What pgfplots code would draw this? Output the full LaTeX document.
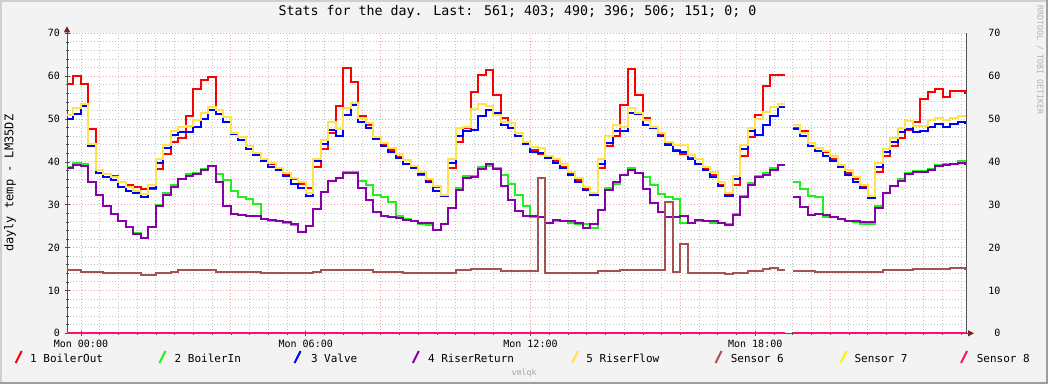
\documentclass[border=0pt]{standalone}
\usepackage{fontspec}
\setmainfont{DejaVu Sans Mono}
\usepackage{pgfplots}
\pgfplotsset{compat=1.18}
\usepackage{pgfplotstable}
\usetikzlibrary{arrows.meta}

\definecolor{cBack}{HTML}{F3F3F3}
\definecolor{cShadeA}{HTML}{CFCFCF}
\definecolor{cShadeB}{HTML}{9E9E9E}
\definecolor{cGrid}{HTML}{C4C4C4}
\definecolor{cMGrid}{HTML}{EBA8A8}
\definecolor{cAxis}{HTML}{505050}
\definecolor{cArrow}{HTML}{7F1F1F}
\definecolor{cR}{HTML}{FF0000}
\definecolor{cG}{HTML}{22EE22}
\definecolor{cB}{HTML}{0000FF}
\definecolor{cP}{HTML}{8800AA}
\definecolor{cY}{HTML}{FFE34D}
\definecolor{cS}{HTML}{A65252}
\definecolor{cS7}{HTML}{FFF200}
\definecolor{cS8}{HTML}{FF1070}

\pgfplotstableread{
t R G B P Y S Z
-0.373 58.2 38.9 50.0 38.5 50.9 14.8 0
-0.2 60.0 39.7 51.1 39.3 52.5 14.8 0
0.0 58.2 39.5 53.0 39.1 53.4 14.4 0
0.2 47.6 35.2 43.6 35.2 44.2 14.4 0
0.4 38.1 32.3 37.3 32.3 38.1 14.4 0
0.6 37.2 29.7 36.4 29.6 37.2 14.0 0
0.8 36.6 27.8 35.8 27.8 36.4 14.0 0
1.0 35.2 26.2 34.2 26.3 35.4 14.0 0
1.2 34.6 24.9 33.1 24.7 34.2 14.0 0
1.4 34.1 23.5 32.7 23.2 33.1 14.0 0
1.6 33.6 22.3 31.9 22.3 32.5 13.6 0
1.8 33.6 24.9 33.8 24.7 34.6 13.6 0
2.0 38.4 29.9 39.8 29.8 40.6 14.0 0
2.2 41.8 32.8 43.3 32.3 44.0 14.0 0
2.4 44.7 34.6 46.3 34.2 47.3 14.4 0
2.6 45.6 35.9 46.9 36.0 48.2 14.8 0
2.8 50.6 37.2 47.0 36.7 48.4 14.8 0
3.0 57.0 37.3 48.2 37.1 49.8 14.8 0
3.2 59.0 38.4 49.9 38.2 51.3 14.8 0
3.4 59.7 39.0 52.1 39.1 52.7 14.8 0
3.6 52.1 37.2 51.1 35.4 52.1 14.4 0
3.8 50.4 35.8 49.2 29.7 50.4 14.4 0
4.0 46.7 33.1 46.5 27.9 46.8 14.4 0
4.2 45.7 31.7 45.1 27.5 45.7 14.4 0
4.4 43.6 31.3 42.9 27.4 43.8 14.4 0
4.6 41.8 30.2 41.6 27.4 42.0 14.4 0
4.8 40.4 26.6 40.3 26.6 40.6 14.0 0
5.0 39.5 26.3 38.9 26.4 39.7 14.0 0
5.2 38.1 26.1 38.0 26.2 38.5 14.0 0
5.4 37.2 25.7 36.6 25.9 37.5 14.0 0
5.6 35.9 25.3 34.8 25.5 36.2 14.0 0
5.8 34.8 23.7 33.9 23.7 35.2 14.0 0
6.0 33.8 25.1 32.0 25.1 32.8 14.0 0
6.2 38.7 29.1 40.1 28.9 40.6 14.4 0
6.4 42.9 32.9 44.2 32.9 45.2 14.8 0
6.6 46.8 35.5 47.5 35.5 49.4 14.8 0
6.8 53.0 36.2 46.0 36.2 47.6 14.8 0
7.0 62.0 37.7 50.9 37.5 52.5 14.8 0
7.2 58.7 37.7 53.3 37.5 53.7 14.8 0
7.4 50.6 35.6 49.4 33.8 50.2 14.8 0
7.6 48.6 34.6 47.8 31.0 49.0 14.8 0
7.8 45.5 32.3 45.3 28.4 45.7 14.4 0
8.0 43.9 31.7 43.7 27.4 44.3 14.4 0
8.2 42.8 30.7 42.4 27.2 43.2 14.4 0
8.4 41.2 27.4 40.8 26.8 41.8 14.4 0
8.6 39.5 26.6 39.5 26.4 40.4 14.0 0
8.8 38.7 26.1 38.5 26.1 39.0 14.0 0
9.0 36.9 25.5 37.2 25.8 37.7 14.0 0
9.2 35.8 25.3 35.4 25.7 35.9 14.0 0
9.4 34.2 24.0 33.3 24.0 34.4 14.0 0
9.6 32.3 25.5 32.0 25.5 32.3 14.0 0
9.8 38.5 29.2 39.7 29.2 40.6 14.0 0
10.0 44.7 33.8 46.0 33.4 47.8 14.8 0
10.2 47.8 36.6 47.1 36.2 48.2 14.8 0
10.4 56.4 36.7 47.4 36.4 52.3 15.1 0
10.6 60.3 38.7 50.7 38.3 53.4 15.1 0
10.8 61.4 39.0 52.0 39.4 53.0 15.1 0
11.0 55.6 38.5 51.3 38.3 50.9 15.1 0
11.2 50.2 36.9 48.6 34.4 49.2 14.6 0
11.4 49.0 34.8 48.0 31.1 49.0 14.6 0
11.6 46.0 32.3 46.0 28.6 46.7 14.6 0
11.8 44.2 29.6 44.1 27.4 44.7 14.6 0
12.0 42.8 27.2 42.2 27.4 43.4 14.6 0
12.2 41.8 27.1 42.0 27.2 43.2 36.3 0
12.4 41.1 25.8 40.8 25.8 41.4 14.0 0
12.6 40.1 26.3 39.8 26.4 40.6 14.0 0
12.8 38.7 26.1 38.5 26.3 39.5 14.0 0
13.0 37.2 25.7 36.9 26.1 37.7 14.0 0
13.2 35.8 25.6 35.4 25.8 36.2 14.0 0
13.4 33.8 25.5 33.4 24.5 34.1 14.0 0
13.6 32.5 24.5 32.3 25.5 32.7 14.0 0
13.8 38.5 28.8 39.5 28.8 40.6 14.5 0
14.0 43.6 33.8 44.5 33.4 46.0 14.5 0
14.2 46.0 34.8 47.1 35.4 48.6 14.5 0
14.4 53.3 36.9 47.1 36.9 48.2 14.8 0
14.6 61.6 38.5 51.3 38.1 52.5 14.8 0
14.8 55.6 37.5 51.2 37.3 51.5 14.8 0
15.0 50.2 36.4 48.6 33.6 49.8 14.8 0
15.2 47.8 34.6 47.8 30.3 48.2 14.8 0
15.4 46.5 32.6 46.0 28.2 46.8 14.8 0
15.6 44.3 31.9 43.9 27.2 44.7 30.7 0
15.8 42.8 31.3 42.6 27.2 43.9 14.4 0
16.0 41.8 25.7 42.4 27.3 43.9 20.9 0
16.2 40.8 25.7 40.6 25.7 41.6 14.1 0
16.4 39.5 26.3 39.5 26.5 40.6 14.1 0
16.6 38.5 26.1 38.0 26.3 38.9 14.1 0
16.8 36.9 25.8 36.4 26.1 37.7 14.1 0
17.0 34.6 25.7 34.4 25.8 35.2 14.1 0
17.2 32.6 25.5 32.0 25.3 32.7 13.8 0
17.4 34.6 27.8 35.9 27.6 36.6 14.1 0
17.6 41.4 32.0 42.9 31.8 43.9 14.1 0
17.8 45.7 35.0 47.1 34.6 47.8 14.6 0
18.0 50.9 36.6 46.3 36.5 49.9 14.6 0
18.2 57.7 37.4 48.6 37.0 51.7 14.9 0
18.4 60.3 38.6 50.6 38.2 52.8 15.2 0
18.6 60.3 39.3 52.7 39.3 53.5 14.8 0
18.8 60.3 39.3 52.7 39.3 53.5 14.8 0
18.9 nan nan nan nan nan nan nan
19.0 47.8 35.4 47.6 31.9 48.7 14.6 0
19.2 47.1 33.6 46.0 29.4 46.8 14.6 0
19.4 44.4 32.0 43.8 27.6 44.3 14.6 0
19.6 43.2 31.8 42.6 27.8 43.2 14.3 0
19.8 42.3 27.2 41.4 27.5 42.5 14.3 0
20.0 40.6 27.1 40.2 27.1 41.4 14.3 0
20.2 38.9 26.6 38.7 26.7 39.2 14.3 0
20.4 37.4 26.3 36.9 26.3 38.1 14.3 0
20.6 35.9 26.0 35.4 26.1 36.5 14.3 0
20.8 34.2 25.6 33.9 25.9 34.5 14.3 0
21.0 31.9 25.5 31.6 26.0 32.0 14.2 0
21.2 37.7 29.6 38.9 29.2 39.8 14.2 0
21.4 41.3 32.8 42.2 32.8 43.1 14.8 0
21.6 43.6 34.3 44.6 34.3 45.5 14.8 0
21.8 45.5 35.9 46.9 35.6 47.8 14.8 0
22.0 47.4 37.3 47.7 37.1 49.5 14.8 0
22.2 49.4 37.8 47.0 37.7 48.4 15.0 0
22.4 54.7 37.9 47.2 37.7 48.4 15.0 0
22.6 56.3 38.3 48.1 38.1 49.8 15.0 0
22.8 56.9 39.3 48.8 39.0 50.3 15.0 0
23.0 55.2 39.5 48.2 39.3 49.7 15.0 0
23.2 56.6 39.6 48.9 39.4 50.2 15.3 0
23.4 56.5 40.3 49.2 39.7 50.6 15.3 0
23.6 56.1 40.3 49.0 39.6 50.6 15.1 0
23.627 56.1 40.3 49.0 39.6 50.6 15.1 0
}\data

\newcommand{\tickfont}{\fontsize{10}{12}\selectfont}
\newcommand{\legfont}{\fontsize{11}{13}\selectfont}

\begin{document}
\begin{tikzpicture}[x=1pt,y=1pt]
\path[use as bounding box] (0,0) rectangle (1048,384);
\fill[cBack] (0,0) rectangle (1048,384);
\draw[cShadeA, line width=2pt] (1,0) -- (1,383) -- (1048,383);
\draw[cShadeB, line width=2pt] (0,1) -- (1047,1) -- (1047,384);

\begin{axis}[
  at={(67pt,50.7pt)}, anchor=south west, scale only axis,
  width=899pt, height=300pt,
  xmin=-0.373, xmax=23.627, ymin=0, ymax=70,
  clip=false,
  axis background/.style={fill=white},
  axis line style={draw=none},
  xtick={0,6,12,18},
  xticklabels={Mon 00:00,Mon 06:00,Mon 12:00,Mon 18:00},
  ytick={0,10,...,70},
  minor xtick={0,0.5,...,23.5},
  minor ytick={2,4,...,68},
  extra x ticks={0,4,8,12,16,20},
  extra x tick labels={},
  extra x tick style={xmajorgrids=true, major tick length=0pt},
  xmajorgrids=false, ymajorgrids=true, xminorgrids=true, yminorgrids=true,
  minor grid style={cGrid, line width=0.8pt, dash pattern=on 1pt off 2pt},
  major grid style={cMGrid, line width=0.8pt, dash pattern=on 1pt off 2pt},
  tick pos=left, tick align=center,
  major tick length=5pt, minor tick length=3pt,
  every tick/.style={cAxis, line width=0.6pt},
  /pgf/number format/assume math mode=true,
  tick label style={font=\tickfont, text=black},
  yticklabel style={anchor=east, xshift=-1pt},
  xticklabel style={anchor=north, yshift=-0.5pt},
  unbounded coords=jump,
  every axis plot/.append style={const plot, line width=2pt, mark=none},
]
\draw[cAxis, line width=1pt] (rel axis cs:1,0) -- (rel axis cs:1,1);
\draw[cAxis, line width=1pt, -{Triangle[length=6pt,width=6pt,color=cArrow]}] (rel axis cs:0,0) -- ([yshift=7pt]rel axis cs:0,1);
\draw[cAxis, line width=1pt, -{Triangle[length=6pt,width=6pt,color=cArrow]}] (rel axis cs:0,0) -- ([xshift=8pt]rel axis cs:1,0);
\addplot[cR] table[x=t,y=R] {\data};
\addplot[cG] table[x=t,y=G] {\data};
\addplot[cB] table[x=t,y=B] {\data};
\addplot[cP] table[x=t,y=P] {\data};
\addplot[cY] table[x=t,y=Y] {\data};
\addplot[cS] table[x=t,y=S] {\data};
\addplot[cS7] table[x=t,y=Z] {\data};
\addplot[cS8] table[x=t,y=Z] {\data};
\end{axis}

\begin{axis}[
  at={(67pt,50.7pt)}, anchor=south west, scale only axis,
  width=899pt, height=300pt,
  xmin=-0.373, xmax=23.627, ymin=0, ymax=70,
  hide x axis, axis y line*=right,
  axis line style={draw=none},
  ytick={0,10,...,70},
  major tick length=0pt,
  /pgf/number format/assume math mode=true,
  tick label style={font=\tickfont, text=black},
  yticklabel style={anchor=east, xshift=38pt},
]
\end{axis}

\node[font=\fontsize{13.3}{15}\selectfont] at (517.5,372) {Stats for the day. Last: 561; 403; 490; 396; 506; 151; 0; 0};
\node[font=\fontsize{12}{14}\selectfont, rotate=90] at (10,200.7) {dayly temp - LM35DZ};
\node[font=\fontsize{8.3}{10}\selectfont, text=black!30, rotate=-90] at (1040,324) {RRDTOOL / TOBI OETIKER};
\node[font=\fontsize{8.3}{10}\selectfont, text=black!35] at (524,11) {vmlqk};

\foreach \mx/\tx/\col/\lab in {18.7/30/cR/{1 BoilerOut}, 162.4/174.5/cG/{2 BoilerIn}, 297.5/310.8/cB/{3 Valve}, 415.8/427.8/cP/{4 RiserReturn}, 574.9/586.2/cY/{5 RiserFlow}, 718.6/730.6/cS/{Sensor 6}, 843.6/854.3/cS7/{Sensor 7}, 964/976.6/cS8/{Sensor 8}} {
  \draw[\col, line width=2pt] (\mx-3,21) -- (\mx+3,33);
  \node[font=\legfont, anchor=base west, inner sep=0pt] at (\tx,22) {\lab};
}
\end{tikzpicture}
\end{document}
